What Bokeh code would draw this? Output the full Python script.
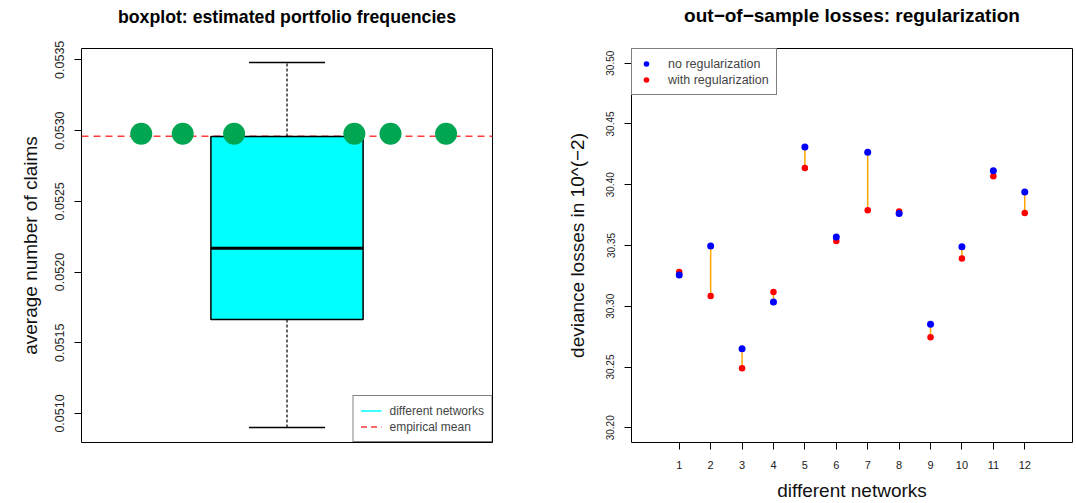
from bokeh.plotting import figure
from bokeh.layouts import row
from bokeh.models import (Range1d, FixedTicker, PrintfTickFormatter, Span,
                          Legend, LegendItem, Title)
from bokeh.embed import file_html
from bokeh.resources import INLINE

FONT = "Liberation Sans"
NAN = float("nan")

# ---------------- left panel data ----------------
freq_whisker_low = 0.050901
freq_q1 = 0.051665
freq_median = 0.052168
freq_q3 = 0.052958
freq_whisker_high = 0.053481
empirical_mean = 0.052960
network_dot_x = [0.617, 0.726, 0.861, 1.177, 1.272, 1.418]
network_dot_y = [0.052977, 0.052977, 0.052977, 0.052977, 0.052977, 0.052977]
freq_ticks = [0.0510, 0.0515, 0.0520, 0.0525, 0.0530, 0.0535]

# ---------------- right panel data ----------------
networks = [1, 2, 3, 4, 5, 6, 7, 8, 9, 10, 11, 12]
loss_no_reg = [30.3257, 30.3495, 30.2651, 30.3035, 30.4310, 30.3569,
               30.4267, 30.3763, 30.2852, 30.3489, 30.4116, 30.3941]
loss_with_reg = [30.3281, 30.3084, 30.2490, 30.3117, 30.4138, 30.3536,
                 30.3790, 30.3780, 30.2745, 30.3394, 30.4070, 30.3768]
loss_ticks = [30.20, 30.25, 30.30, 30.35, 30.40, 30.45, 30.50]

TOP = 48          # space above the plotting frame
TITLE_BOTTOM = 26 # where the title text should end


def style(p, title, fs):
    h = 1.149 * fs
    s = max(0.0, 2 * (TITLE_BOTTOM - 2 - h))
    p.title.text = title
    p.title.align = "center"
    p.title.text_font = FONT
    p.title.text_font_size = f"{fs}px"
    p.title.text_font_style = "bold"
    p.title.text_color = "black"
    p.title.standoff = s
    # invisible spacer between title and frame
    spacer_s = max(0.0, TOP - (2 + h + s) - (2 + 1.149))
    p.add_layout(Title(text=" ", text_font_size="1px", standoff=spacer_s), "above")
    p.xgrid.visible = False
    p.ygrid.visible = False
    p.outline_line_color = "black"
    p.outline_line_width = 1
    p.outline_line_alpha = 1
    p.background_fill_color = "white"
    p.border_fill_color = "white"
    for ax in p.axis:
        ax.axis_line_color = None
        ax.major_tick_line_color = "black"
        ax.major_tick_out = 7
        ax.major_tick_in = 0
        ax.minor_tick_line_color = None
        ax.major_label_text_font = FONT
        ax.major_label_text_color = "#222222"
        ax.axis_label_text_font = FONT
        ax.axis_label_text_font_size = "19px"
        ax.axis_label_text_font_style = "normal"
        ax.axis_label_text_color = "#111111"


# ---------------- left figure ----------------
p1 = figure(width=560, height=503, x_range=Range1d(0.46, 1.54),
            y_range=Range1d(0.050795, 0.05358), x_axis_location=None,
            output_backend="svg", toolbar_location=None,
            min_border_left=81, min_border_right=68,
            min_border_top=TOP, min_border_bottom=60)
style(p1, "boxplot: estimated portfolio frequencies", 17.7)
ya = p1.yaxis[0]
ya.ticker = FixedTicker(ticks=freq_ticks)
ya.formatter = PrintfTickFormatter(format="%.4f")
ya.major_label_orientation = "vertical"
ya.major_label_text_font_size = "12.5px"
ya.major_label_standoff = 10
ya.axis_label = "average number of claims"
ya.axis_label_standoff = 12

mean_span = Span(location=empirical_mean, dimension="width", line_color="#FF3B3B",
                 line_dash="7 5", line_width=1.5, level="underlay")
p1.add_layout(mean_span)

center = 1.0
half_box = 0.2
half_cap = 0.1
p1.segment(x0=[center, center], x1=[center, center],
           y0=[freq_q3, freq_q1], y1=[freq_whisker_high, freq_whisker_low],
           line_color="black", line_width=1.2, line_dash="3 2")
p1.quad(left=[center - half_box], right=[center + half_box],
        bottom=[freq_q1], top=[freq_q3],
        fill_color="#00FFFF", line_color="black", line_width=1.5)
p1.segment(x0=[center - half_box], x1=[center + half_box],
           y0=[freq_median], y1=[freq_median], line_color="black", line_width=3)
p1.segment(x0=[center - half_cap, center - half_cap],
           x1=[center + half_cap, center + half_cap],
           y0=[freq_whisker_high, freq_whisker_low],
           y1=[freq_whisker_high, freq_whisker_low],
           line_color="black", line_width=1.5)
p1.scatter(x=network_dot_x, y=network_dot_y, size=22, fill_color="#00A651",
           line_color=None)

# legend-only renderers (no visible data)
leg_net = p1.line(x=[NAN, NAN], y=[NAN, NAN], line_color="#00FFFF", line_width=1.5)
leg_mean = p1.line(x=[NAN, NAN], y=[NAN, NAN], line_color="#FF3B3B",
                   line_dash="6 4", line_width=1.5)
legend1 = Legend(items=[LegendItem(label="different networks", renderers=[leg_net]),
                        LegendItem(label="empirical mean", renderers=[leg_mean])],
                 location="bottom_right", margin=0, padding=7, spacing=1,
                 glyph_width=21, glyph_height=15, label_height=15, label_standoff=8,
                 label_text_font=FONT, label_text_font_size="12px",
                 border_line_color="black", border_line_width=1,
                 background_fill_color="white", background_fill_alpha=1)
p1.add_layout(legend1)

# ---------------- right figure ----------------
p2 = figure(width=516, height=503, x_range=Range1d(-0.52, 13.52),
            y_range=Range1d(30.1879, 30.5121),
            output_backend="svg", toolbar_location=None,
            min_border_left=71, min_border_right=4,
            min_border_top=TOP, min_border_bottom=60)
style(p2, "out\u2212of\u2212sample losses: regularization", 19)
ya2 = p2.yaxis[0]
ya2.ticker = FixedTicker(ticks=loss_ticks)
ya2.formatter = PrintfTickFormatter(format="%.2f")
ya2.major_label_orientation = "vertical"
ya2.major_label_text_font_size = "10px"
ya2.major_label_standoff = 10
ya2.axis_label = "deviance losses in 10^(\u22122)"
ya2.axis_label_standoff = 16
xa2 = p2.xaxis[0]
xa2.ticker = FixedTicker(ticks=networks)
xa2.major_label_text_font_size = "11px"
xa2.major_label_standoff = 11
xa2.axis_label = "different networks"
xa2.axis_label_standoff = 8

p2.segment(x0=networks, x1=networks, y0=loss_no_reg, y1=loss_with_reg,
           line_color="#FFA500", line_width=1.5)
r_with = p2.scatter(x=networks, y=loss_with_reg, size=6.5, fill_color="#FF0000",
                    line_color=None)
r_no = p2.scatter(x=networks, y=loss_no_reg, size=7, fill_color="#0000FF",
                  line_color=None)
legend2 = Legend(items=[LegendItem(label="no regularization", renderers=[r_no]),
                        LegendItem(label="with regularization", renderers=[r_with])],
                 location="top_left", margin=0, padding=7, spacing=1,
                 glyph_width=14, glyph_height=15, label_height=15, label_standoff=15,
                 label_text_font=FONT, label_text_font_size="12.5px",
                 border_line_color="black", border_line_width=1,
                 background_fill_color="white", background_fill_alpha=1)
p2.add_layout(legend2)

layout = row(p1, p2)
open("out.html", "w").write(file_html(layout, INLINE))
